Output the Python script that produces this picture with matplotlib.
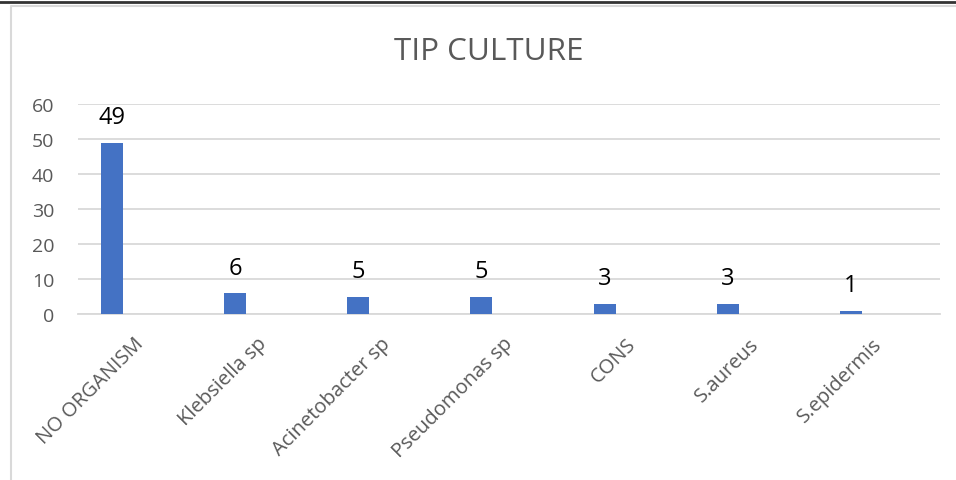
import matplotlib
matplotlib.use("Agg")
import matplotlib.pyplot as plt
import matplotlib.transforms as mtransforms
import numpy as np
from matplotlib.lines import Line2D

categories = ["NO ORGANISM", "Klebsiella sp", "Acinetobacter sp", "Pseudomonas sp",
              "CONS", "S.aureus", "S.epidermis"]
values = [49, 6, 5, 5, 3, 3, 1]
yticks = [0, 10, 20, 30, 40, 50, 60]
title = "TIP CULTURE"

plt.rcParams['font.family'] = ['Open Sans', 'DejaVu Sans']

W, H = 956, 481
fig = plt.figure(figsize=(W / 100, H / 100), dpi=100)
fig.patch.set_facecolor("white")

L, R, T, B = 78, 940, 105, 315
ax = fig.add_axes([L / W, 1 - B / H, (R - L) / W, (B - T) / H])

x = np.arange(len(categories))
offset = -0.224
bars = ax.bar(x + offset, values, width=0.178, color="#4472C4", zorder=3)

for xi, v in zip(x, values):
    ax.annotate(str(v), (xi + offset, v), xytext=(0, 18), textcoords="offset points",
                ha="center", va="center", fontsize=17, color="#000000")

ax.set_xlim(-0.5, len(categories) - 0.5)
ax.set_ylim(0, 60)
ax.set_yticks(yticks)
ax.set_yticklabels([str(t) for t in yticks], fontsize=14, color="#595959")
ax.yaxis.grid(True, color="#D9D9D9", linewidth=1.3, zorder=0)
ax.set_axisbelow(True)
ax.tick_params(axis="y", length=0, pad=17)
ax.tick_params(axis="x", length=0, pad=14)
ax.set_xticks(x)
ax.set_xticklabels(categories, rotation=45, ha="right", va="top",
                   rotation_mode="anchor", fontsize=14.5, color="#595959")
shift = mtransforms.ScaledTranslation(-6 / 100, 0, fig.dpi_scale_trans)
for lbl in ax.get_xticklabels():
    lbl.set_transform(lbl.get_transform() + shift)
for s in ["top", "right", "left"]:
    ax.spines[s].set_visible(False)
ax.spines["bottom"].set_color("#D9D9D9")
ax.spines["bottom"].set_linewidth(1.3)

fig.text(489 / W, 1 - 52 / H, title, ha="center", va="center", fontsize=22.6, color="#595959")

# chart border and top line
fig.add_artist(Line2D([0, 1], [1 - 2.5 / H, 1 - 2.5 / H], transform=fig.transFigure,
                      color="#333333", linewidth=2))
fig.add_artist(Line2D([10.5 / W, 10.5 / W, 1], [0, 1 - 6.5 / H, 1 - 6.5 / H],
                      transform=fig.transFigure, color="#D9D9D9", linewidth=1.5))

fig.savefig("out.png", dpi=100, facecolor="white")
